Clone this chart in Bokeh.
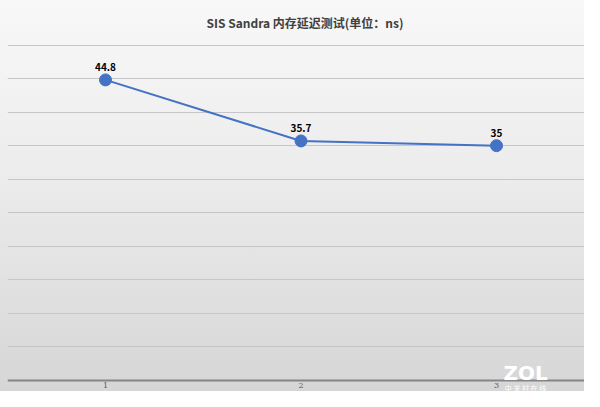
from bokeh.plotting import figure
from bokeh.models import ColumnDataSource, Range1d, FixedTicker, Label, Span
from bokeh.core.properties import value
from bokeh.embed import file_html
from bokeh.resources import INLINE

title_text = "SIS Sandra 内存延迟测试(单位：ns)"
categories = [1, 2, 3]
tick_labels = ["1", "2", "3"]
latency = [44.8, 35.7, 35]
labels = ["44.8", "35.7", "35"]
grid_ticks = [5, 10, 15, 20, 25, 30, 35, 40, 45, 50]

src = ColumnDataSource(dict(x=categories, y=latency, lab=labels))
tick_src = ColumnDataSource(dict(x=categories, y=[0] * len(categories), t=tick_labels))

p = figure(width=584, height=391, output_backend="svg", toolbar_location=None,
           x_range=Range1d(0.4987, 3.45), y_range=Range1d(-1.64, 50.075),
           min_border_left=7, min_border_right=0, min_border_top=44, min_border_bottom=0)
p.styles = {"background": "linear-gradient(180deg, #f8f8f8 0%, #ececec 45%, #d6d6d6 100%)"}
p.background_fill_alpha = 0
p.border_fill_alpha = 0
p.outline_line_color = None

p.title.text = title_text
p.title.align = "left"
p.title.offset = 199
p.title.vertical_align = "middle"
p.title.text_font = "Noto Sans CJK SC"
p.title.text_font_size = "12px"
p.title.text_font_style = "bold"
p.title.text_color = "#404040"
p.title.standoff = 25

p.xaxis.visible = False
p.yaxis.visible = False
p.xgrid.visible = False
p.ygrid.ticker = FixedTicker(ticks=grid_ticks)
p.ygrid.grid_line_color = "#c6c6c6"
p.ygrid.grid_line_width = 1

p.add_layout(Span(location=0, dimension="width", line_color="#858585", line_width=2))

p.text("x", "y", text="t", source=tick_src, y_offset=3, text_align="center",
       text_baseline="top", text_font=value("DejaVu Serif"),
       text_font_size="8px", text_color="#595959")

p.line("x", "y", source=src, line_color="#4472c4", line_width=2)
p.scatter("x", "y", source=src, size=12, fill_color="#4472c4", line_color="#4472c4")
p.text("x", "y", text="lab", source=src, y_offset=-9, text_align="center",
       text_baseline="bottom", text_font=value("Noto Sans CJK SC"),
       text_font_style="bold", text_font_size="10px", text_color="#000000")

p.add_layout(Label(x=518, y=7, x_units="screen", y_units="screen", text="ZOL",
                   text_align="center", text_font="DejaVu Sans", text_font_style="bold",
                   text_font_size="20px", text_color="#ffffff"))
p.add_layout(Label(x=518, y=-1, x_units="screen", y_units="screen", text="中 关 村 在 线",
                   text_align="center", text_font="Noto Sans CJK SC",
                   text_font_size="7px", text_color="#ffffff"))

open("out.html", "w").write(file_html(p, INLINE))
